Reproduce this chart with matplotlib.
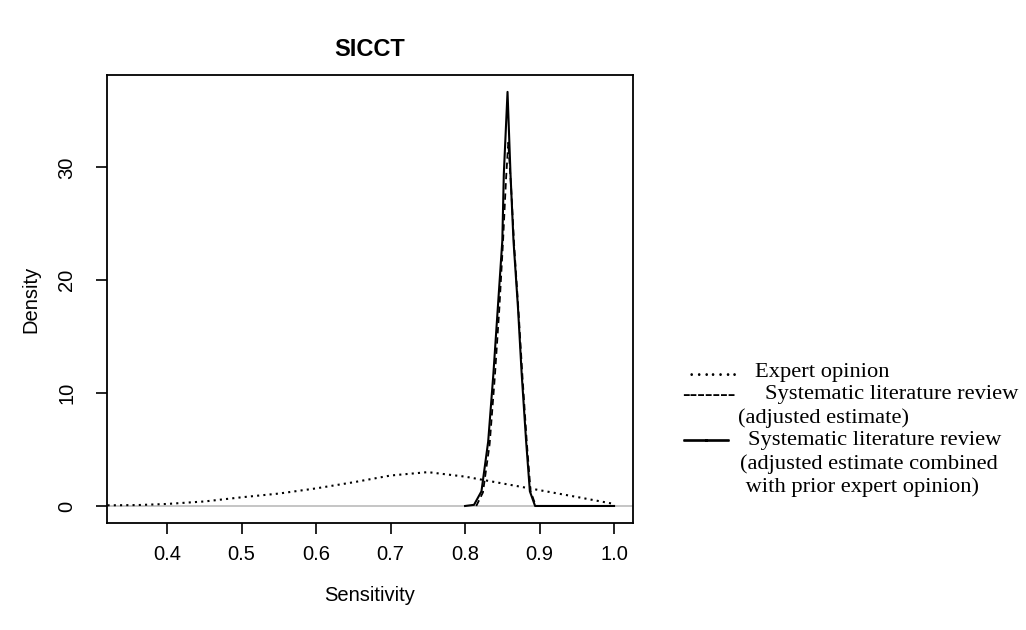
import numpy as np
import matplotlib
matplotlib.use("Agg")
import matplotlib.pyplot as plt
import matplotlib.patheffects as pe

# expert opinion prior (dotted)
expert_x = [0.32, 0.36, 0.40, 0.45, 0.50, 0.55, 0.60, 0.65, 0.70, 0.75, 0.80, 0.85, 0.90, 0.95, 1.00]
expert_y = [0.06, 0.08, 0.18, 0.40, 0.77, 1.10, 1.56, 2.10, 2.70, 3.00, 2.60, 2.00, 1.40, 0.80, 0.18]

# systematic literature review, adjusted estimate (dashed)
slr_x = [0.815, 0.824, 0.833, 0.840, 0.846, 0.851, 0.855, 0.858, 0.862, 0.866, 0.872, 0.877, 0.883, 0.888, 0.895]
slr_y = [0.0, 1.2, 5.5, 11.5, 17.5, 23.5, 29.0, 32.2, 28.0, 23.0, 17.0, 11.5, 5.5, 1.3, 0.0]

# combined with prior expert opinion (solid)
comb_x = [0.800, 0.812, 0.822, 0.831, 0.838, 0.844, 0.850, 0.852, 0.857, 0.861, 0.865,
          0.871, 0.876, 0.882, 0.887, 0.894, 0.910, 1.000]
comb_y = [0.0, 0.1, 1.3, 5.7, 11.7, 17.6, 23.5, 29.4, 36.7, 29.4, 23.5,
          17.6, 11.7, 5.7, 1.3, 0.0, 0.0, 0.0]

xticks = [0.4, 0.5, 0.6, 0.7, 0.8, 0.9, 1.0]
yticks = [0, 10, 20, 30]

legend_lines = [
    ("\u2026\u2026.", "Expert opinion"),
    ("-------", "Systematic literature review"),
    ("", "(adjusted estimate)"),
    ("\u2014\u2014", "Systematic literature review"),
    ("", "(adjusted estimate combined"),
    ("", " with prior expert opinion)"),
]

plt.rcParams['font.family'] = ['Liberation Sans', 'DejaVu Sans']

fig = plt.figure(figsize=(10.26, 6.3), dpi=100)
ax = fig.add_axes([0.1043, 0.170, 0.5127, 0.711])

ax.axhline(0, color='#bbbbbb', lw=1.2)
ax.plot(expert_x, expert_y, color='black', lw=1.5, linestyle=(0, (1.0, 2.0)))
ax.plot(slr_x, slr_y, color='black', lw=1.3, linestyle=(0, (3.5, 2.2)))
ax.plot(comb_x, comb_y, color='black', lw=1.5)

ax.set_xlim(0.3193, 1.0255)
ax.set_ylim(-1.5, 38.2)
ax.set_xticks(xticks)
ax.set_xticklabels([f"{v:.1f}" for v in xticks])
ax.set_yticks(yticks)
ax.set_yticklabels([str(v) for v in yticks], rotation=90, va='center')
ax.tick_params(direction='out', length=8, width=1.2, labelsize=14.5)
ax.tick_params(axis='x', pad=8)
ax.tick_params(axis='y', pad=14)
for s in ax.spines.values():
    s.set_linewidth(1.3)

ax.set_xlabel("Sensitivity", fontsize=14.5, labelpad=16)
ax.set_ylabel("Density", fontsize=14.5, labelpad=12)
ax.set_title("SICCT", fontsize=17, fontweight='bold', pad=14)

# legend built as text lines
serif = ['Liberation Serif', 'DejaVu Serif']
y0 = 1 - 372 / 630
dy = 23 / 630
sym_x = [688, 682, 0, 684, 0, 0]
txt_x = [755, 765, 738, 748, 740, 740]
for i, (sym, txt) in enumerate(legend_lines):
    y = y0 - i * dy
    if sym:
        t = fig.text(sym_x[i] / 1026, y, sym, family=serif, fontsize=16.2,
                     va='center', ha='left')
        if i == 3:
            t.set_path_effects([pe.withStroke(linewidth=1.2, foreground='black')])
    fig.text(txt_x[i] / 1026, y, txt, family=serif, fontsize=16.2,
             va='center', ha='left')

fig.savefig("out.png", dpi=100)
